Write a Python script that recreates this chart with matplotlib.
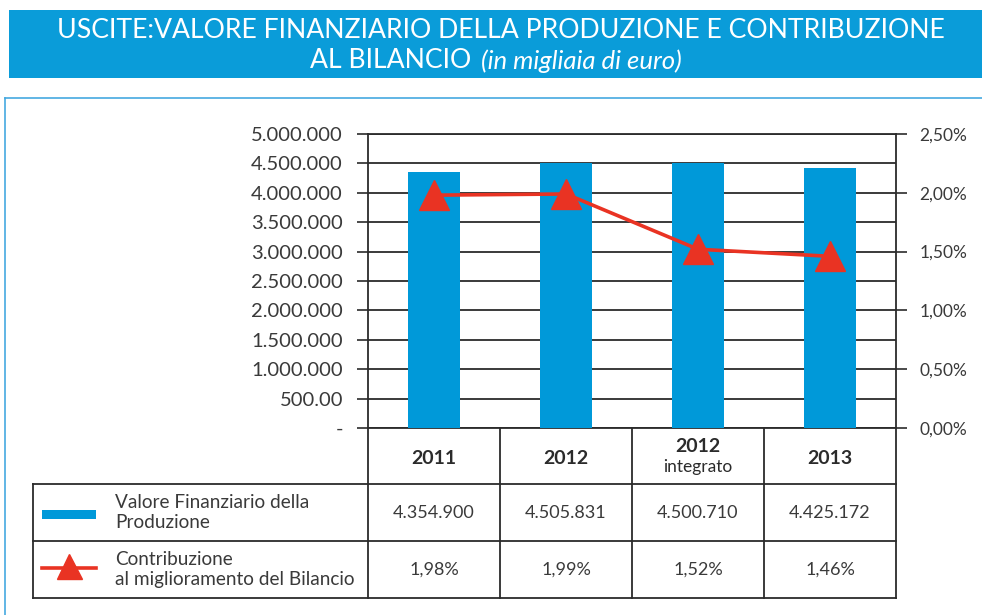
import matplotlib
matplotlib.use("Agg")
import matplotlib.pyplot as plt
import numpy as np
from matplotlib.patches import Rectangle

### data
years = ['2011', '2012', '2012', '2013']
year_sub = ['', '', 'integrato', '']
valore = [4354900, 4505831, 4500710, 4425172]
contrib = [1.98, 1.99, 1.52, 1.46]
valore_labels = ['4.354.900', '4.505.831', '4.500.710', '4.425.172']
contrib_labels = ['1,98%', '1,99%', '1,52%', '1,46%']
left_ticks = [0, 500000, 1000000, 1500000, 2000000, 2500000,
              3000000, 3500000, 4000000, 4500000, 5000000]
left_ticklabels = ['-', '500.00', '1.000.000', '1.500.000', '2.000.000', '2.500.000',
                   '3.000.000', '3.500.000', '4.000.000', '4.500.000', '5.000.000']
right_ticks = [0, 0.5, 1.0, 1.5, 2.0, 2.5]
right_ticklabels = ['0,00%', '0,50%', '1,00%', '1,50%', '2,00%', '2,50%']
series_names = ['Valore Finanziario della\nProduzione',
                'Contribuzione\nal miglioramento del Bilancio']

### colours
blue = '#0099d9'
band = '#0a9cd9'
red = '#e93323'
dark = '#2b2b2b'
txt = '#3a3a3a'

plt.rcParams['font.family'] = ['Lato', 'DejaVu Sans']

W, H = 982, 615
fig = plt.figure(figsize=(W / 100, H / 100), dpi=100)

### full figure canvas in pixel coordinates
canvas = fig.add_axes([0, 0, 1, 1])
canvas.set_xlim(0, W)
canvas.set_ylim(H, 0)
canvas.axis('off')

### title band
canvas.add_patch(Rectangle((9, 10), W - 9, 68, color=band, lw=0))
canvas.text(501, 31, 'USCITE:VALORE FINANZIARIO DELLA PRODUZIONE E CONTRIBUZIONE',
            color='white', fontsize=19.2, ha='center', va='center')
canvas.text(471, 61, 'AL BILANCIO', color='white', fontsize=19.2, ha='right', va='center')
canvas.text(481, 61, '(in migliaia di euro)', color='white', fontsize=18.5,
            style='italic', ha='left', va='center')

### outer frame
canvas.plot([5, W], [98, 98], color='#45a9e0', lw=1.2)
canvas.plot([5, 5], [98, H], color='#45a9e0', lw=1.2)

### chart
x0, x1, y0, y1 = 368, 896, 134, 428
ax = fig.add_axes([x0 / W, 1 - y1 / H, (x1 - x0) / W, (y1 - y0) / H])
ax.patch.set_alpha(0)
x = np.arange(len(valore))
ax.bar(x, valore, width=0.39, color=blue, zorder=3)
ax.set_xlim(-0.5, len(valore) - 0.5)
ax.set_ylim(0, 5000000)
ax.set_yticks(left_ticks)
ax.set_yticklabels(left_ticklabels)
ax.set_xticks([])
ax.yaxis.grid(True, color=dark, lw=1.3)
ax.set_axisbelow(True)
ax.tick_params(axis='y', direction='out', length=8, width=1.2, color=dark,
               labelsize=14.5, labelcolor=txt, pad=10)
for s in ax.spines.values():
    s.set_color(dark)
    s.set_linewidth(1.3)

ax2 = ax.twinx()
ax2.plot(x, contrib, color=red, lw=2.6, marker='^', ms=21, zorder=5)
ax2.set_ylim(0, 2.5)
ax2.set_yticks(right_ticks)
ax2.set_yticklabels(right_ticklabels)
ax2.tick_params(axis='y', direction='out', length=8, width=1.2, color=dark,
                labelsize=12.5, labelcolor=txt, pad=9)
for s in ax2.spines.values():
    s.set_visible(False)

### table below the chart
edges = np.linspace(x0, x1, len(valore) + 1)
centers = (edges[:-1] + edges[1:]) / 2
r0, r1, r2, r3 = 428, 484, 541, 598
tx0 = 33
lc = dict(color=dark, lw=1.3)
for e in edges:
    canvas.plot([e, e], [r0, r3], **lc)
canvas.plot([tx0, tx0], [r1, r3], **lc)
for r in (r1, r2, r3):
    canvas.plot([tx0, x1], [r, r], **lc)

for c, yr, sub in zip(centers, years, year_sub):
    if sub:
        canvas.text(c, 446, yr, fontsize=14, fontweight='bold', color=dark,
                    ha='center', va='center')
        canvas.text(c, 467, sub, fontsize=12.5, color=dark, ha='center', va='center')
    else:
        canvas.text(c, 458, yr, fontsize=14, fontweight='bold', color=dark,
                    ha='center', va='center')

for c, v, p in zip(centers, valore_labels, contrib_labels):
    canvas.text(c, (r1 + r2) / 2, v, fontsize=13, color=txt, ha='center', va='center')
    canvas.text(c, (r2 + r3) / 2, p, fontsize=13, color=txt, ha='center', va='center')

### legend column
canvas.add_patch(Rectangle((42, 510), 54, 9, color=blue, lw=0))
canvas.plot([42, 96], [568, 568], color=red, lw=2.6)
canvas.plot([69], [566], marker='^', ms=18, color=red)
canvas.text(115, (r1 + r2) / 2, series_names[0], fontsize=13.7, color=txt,
            ha='left', va='center', linespacing=1.2)
canvas.text(115, (r2 + r3) / 2, series_names[1], fontsize=13.7, color=txt,
            ha='left', va='center', linespacing=1.2)

plt.savefig('out.png', dpi=100)
